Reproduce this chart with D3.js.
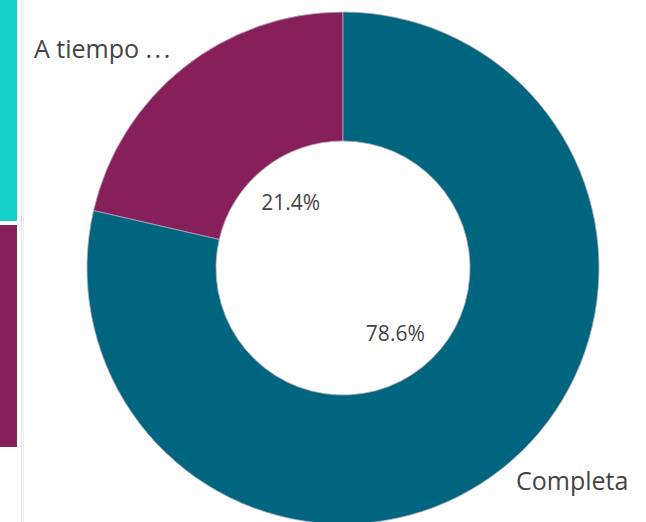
<!DOCTYPE html>
<html><head><meta charset="utf-8">
<script src="https://cdn.jsdelivr.net/npm/d3@7"></script>
<style>html,body{margin:0;padding:0;background:#fff;overflow:hidden}</style>
</head><body>
<svg id="c" width="646" height="522"></svg>
<script>
const categories = ["A tiempo ...", "Completa"];
const values = [21.4, 78.6];
const colors = ["#87205A", "#00657F"];
const legendColors = ["#14D1C8", "#87205A"];

const svg = d3.select("#c");
const font = "'Open Sans', 'Noto Sans', sans-serif";
const cx = 343, cy = 268, rOuter = 256, rInner = 127;

// left cropped legend strips
const ly = d3.scaleLinear().domain([0, 2]).range([0, 446]);
svg.selectAll("rect.leg").data(legendColors).enter().append("rect")
  .attr("x", 0).attr("width", 17)
  .attr("y", (d, i) => ly(i) + (i ? 2 : 0))
  .attr("height", (d, i) => ly(i + 1) - ly(i) - (i ? 1 : 2))
  .attr("fill", d => d);
svg.append("line").attr("x1", 21.5).attr("x2", 21.5).attr("y1", 0).attr("y2", 522)
  .attr("stroke", "#e4e4e4").attr("stroke-width", 1);
svg.append("line").attr("x1", 23.5).attr("x2", 23.5).attr("y1", 0).attr("y2", 522)
  .attr("stroke", "#eeeeee").attr("stroke-width", 1);

const data = categories.map((c, i) => ({ c, v: values[i], col: colors[i] }));
const total = d3.sum(values);
const pie = d3.pie().value(d => d.v).sort(null)
  .startAngle(-2 * Math.PI * values[0] / total).endAngle(2 * Math.PI - 2 * Math.PI * values[0] / total);
const arcs = pie(data);
const arc = d3.arc().innerRadius(rInner).outerRadius(rOuter);
const g = svg.append("g").attr("transform", `translate(${cx},${cy})`);
g.selectAll("path").data(arcs).enter().append("path")
  .attr("d", arc).attr("fill", d => d.data.col)
  .attr("stroke", "#b9a9c0").attr("stroke-width", 0.8);

const labArc = d3.arc().innerRadius(84).outerRadius(84);
g.selectAll("text.pct").data(arcs).enter().append("text")
  .attr("transform", d => `translate(${labArc.centroid(d)})`)
  .attr("text-anchor", "middle").attr("dy", "0.35em")
  .attr("font-family", font).attr("font-size", 21).attr("fill", "#444")
  .text(d => d.data.v.toFixed(1) + "%");

// outer category labels
const t0 = svg.append("text").attr("x", 34).attr("y", 58).attr("font-family", font)
  .attr("font-size", 25).attr("fill", "#444");
const parts = categories[0].split(" ...");
t0.append("tspan").text(parts[0] + " ");
t0.append("tspan").attr("letter-spacing", 2.5).text("...");
svg.append("text").attr("x", 516).attr("y", 490).attr("font-family", font)
  .attr("font-size", 25).attr("fill", "#444").text(categories[1]);
</script>
</body></html>
